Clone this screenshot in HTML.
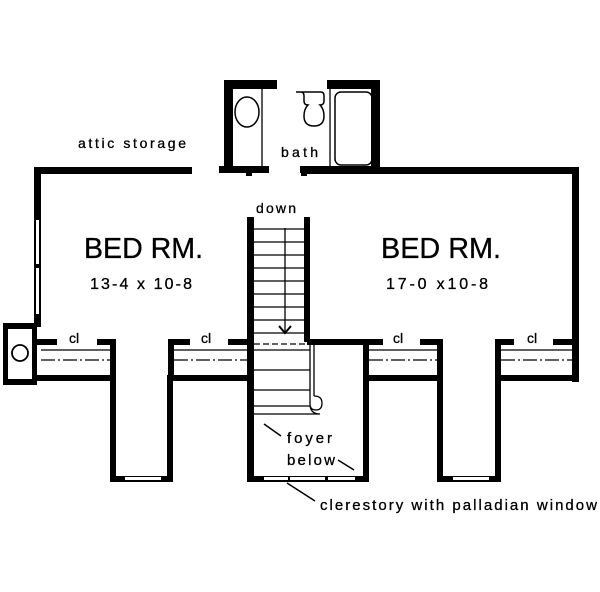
<!DOCTYPE html>
<html><head><meta charset="utf-8"><style>
html,body{margin:0;padding:0;background:#fff;width:600px;height:592px;overflow:hidden}
text{font-family:"Liberation Sans",sans-serif;fill:#000;stroke:#000;stroke-width:0.3}
</style></head><body>
<svg width="600" height="592" viewBox="0 0 600 592" xmlns="http://www.w3.org/2000/svg">
<g fill="#000">
<rect x="34" y="167" width="158" height="7"/>
<rect x="34" y="167" width="7" height="160"/>
<rect x="302" y="167" width="277" height="7"/>
<rect x="572" y="167" width="7" height="215"/>
<rect x="224" y="80" width="53" height="9"/>
<rect x="327" y="80" width="53" height="9"/>
<rect x="224" y="80" width="9" height="93"/>
<rect x="371" y="80" width="9" height="93"/>
<rect x="219" y="166" width="50" height="7"/>
<rect x="300" y="166" width="80" height="7"/>
<rect x="246" y="170" width="6" height="6"/>
<rect x="301" y="170" width="6" height="6"/>
<rect x="3" y="323" width="34" height="62"/>
<rect x="34" y="339" width="23" height="6"/>
<rect x="97" y="339" width="18" height="6"/>
<rect x="168" y="339" width="22" height="6"/>
<rect x="228" y="339" width="25" height="6"/>
<rect x="307" y="339" width="76" height="6"/>
<rect x="420" y="339" width="22" height="6"/>
<rect x="495" y="339" width="19" height="6"/>
<rect x="553" y="339" width="26" height="6"/>
<rect x="34" y="375" width="81" height="6"/>
<rect x="168" y="375" width="85" height="6"/>
<rect x="363" y="375" width="79" height="6"/>
<rect x="495" y="375" width="84" height="6"/>
<rect x="110" y="339" width="6" height="42"/>
<rect x="168" y="339" width="6" height="42"/>
<rect x="437" y="339" width="6" height="42"/>
<rect x="495" y="339" width="6" height="42"/>
<rect x="110" y="375" width="6" height="107"/>
<rect x="167" y="375" width="6" height="107"/>
<rect x="110" y="476" width="63" height="6"/>
<rect x="437" y="375" width="6" height="107"/>
<rect x="495" y="375" width="6" height="107"/>
<rect x="437" y="476" width="64" height="6"/>
<rect x="247" y="217" width="7" height="265"/>
<rect x="304" y="217" width="6" height="125"/>
<rect x="363" y="339" width="6" height="143"/>
<rect x="247" y="476" width="122" height="6"/>
</g>
<g fill="#fff">
<rect x="277" y="82" width="50" height="4"/>
<rect x="36" y="220" width="3" height="44"/>
<rect x="36" y="268" width="3" height="46"/>
<rect x="125" y="477" width="36" height="3"/>
<rect x="453" y="477" width="36" height="3"/>
<rect x="264" y="477" width="24" height="3"/>
<rect x="290" y="477" width="35" height="3"/>
<rect x="328" y="477" width="27" height="3"/>
<rect x="8" y="329" width="24" height="50"/>
</g>
<circle cx="20" cy="353" r="8" fill="none" stroke="#000" stroke-width="1.8"/>
<g stroke="#000" stroke-width="1.3" fill="none">
<line x1="262" y1="89" x2="262" y2="166"/>
<line x1="330" y1="89" x2="330" y2="166"/>
<ellipse cx="247" cy="112" rx="12" ry="15" stroke-width="1.5"/>
<rect x="335" y="92" width="37" height="73" rx="6" stroke-width="1.5"/>
<path d="M296 92 h25 q3 0 3 4 v5 q0 4 -4 4 q4 4 4 11 q0 10 -10 10 q-10 0 -10 -10 q0 -7 4 -11 q-4 0 -4 -4 v-5 q0 -4 -3 -4 z" stroke-width="1.5"/>
<line x1="41" y1="350" x2="110" y2="350"/>
<line x1="174" y1="350" x2="247" y2="350"/>
<line x1="369" y1="350" x2="437" y2="350"/>
<line x1="501" y1="350" x2="572" y2="350"/>
<g stroke-dasharray="14,3,2,3">
<line x1="41" y1="360" x2="110" y2="360"/>
<line x1="174" y1="360" x2="247" y2="360"/>
<line x1="369" y1="360" x2="437" y2="360"/>
<line x1="501" y1="360" x2="572" y2="360"/>
</g>
<path d="M254 229h50M254 242h50M254 255h50M254 268h50M254 281h50M254 294h50M254 307h50M254 320h50M254 333h50M254 350h56M254 370h56M254 390h56M254 406h56"/>
<line x1="254" y1="344" x2="310" y2="344" stroke-dasharray="6,3"/>
<line x1="285" y1="228" x2="285" y2="334"/>
<path d="M279 326 l6 7 l6 -7" stroke-width="2"/>
<path d="M310 342 v62 q0 6 6 6 q6 0 6 -7 q0 -7 -8 -7 M314 342 v54 M310 404 q0 10 10 10 q-18 0 -66 0"/>
<line x1="264" y1="424" x2="281" y2="436" stroke-width="1.5"/>
<line x1="338" y1="460" x2="354" y2="470" stroke-width="1.5"/>
<line x1="287" y1="483" x2="315" y2="501" stroke-width="1.5"/>
</g>
<text x="78" y="148" font-size="14" textLength="108" lengthAdjust="spacing">attic  storage</text>
<text x="281" y="157" font-size="14" textLength="37" lengthAdjust="spacing">bath</text>
<text x="256" y="213" font-size="14" textLength="40" lengthAdjust="spacing">down</text>
<text x="84" y="258" font-size="29" textLength="119" lengthAdjust="spacingAndGlyphs">BED RM.</text>
<text x="90" y="289" font-size="16" textLength="102" lengthAdjust="spacing">13-4 x 10-8</text>
<text x="381" y="258" font-size="29" textLength="120" lengthAdjust="spacingAndGlyphs">BED RM.</text>
<text x="386" y="289" font-size="16" textLength="102" lengthAdjust="spacing">17-0 x10-8</text>
<text x="69" y="343" font-size="14">cl</text>
<text x="201" y="343" font-size="14">cl</text>
<text x="393" y="343" font-size="14">cl</text>
<text x="527" y="343" font-size="14">cl</text>
<text x="287" y="443" font-size="15" textLength="45" lengthAdjust="spacing">foyer</text>
<text x="287" y="465" font-size="15" textLength="48" lengthAdjust="spacing">below</text>
<text x="320" y="510" font-size="15" textLength="277" lengthAdjust="spacing">clerestory  with  palladian  window</text>
</svg>
</body></html>
